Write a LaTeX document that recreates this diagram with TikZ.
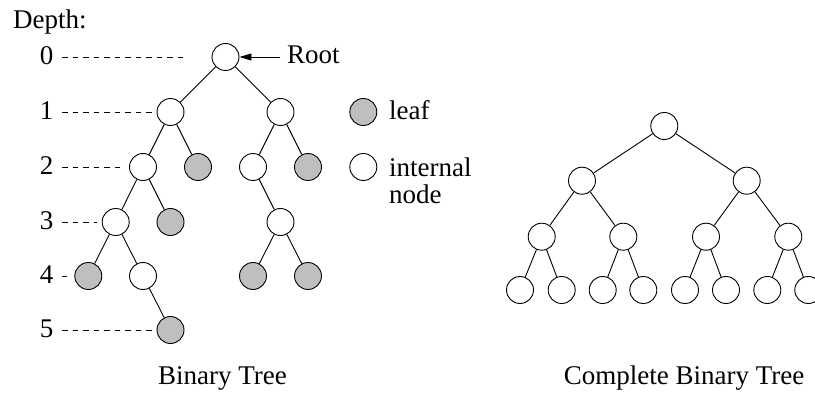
\documentclass[tikz,border=0pt]{standalone}
\usepackage{fontspec}
\setmainfont{Liberation Serif}
\usetikzlibrary{arrows.meta}
\begin{document}
\begin{tikzpicture}[x=1pt,y=-1pt,
  nd/.style={circle,draw,line width=0.9pt,minimum size=27pt,inner sep=0pt,fill=white},
  lf/.style={nd,fill=gray!50},
  edge/.style={line width=0.9pt},
  dl/.style={line width=0.8pt,dash pattern=on 5.5pt off 5pt},
  txt/.style={font=\fontsize{27}{32}\selectfont,inner sep=0pt}
]
\useasboundingbox (0,0) rectangle (815,393);

% ---------- Binary tree ----------
\node[nd] (r) at (225.5,57) {};
\node[nd] (a) at (170.5,112) {};
\node[nd] (b) at (280.5,112) {};
\node[nd] (c) at (143,167) {};
\node[lf] (d) at (198,167) {};
\node[nd] (e) at (253,167) {};
\node[lf] (f) at (308,167) {};
\node[nd] (g) at (115.7,222) {};
\node[lf] (h) at (170.5,222) {};
\node[nd] (i) at (280.5,222) {};
\node[lf] (j) at (88.3,276) {};
\node[nd] (k) at (143,276) {};
\node[lf] (l) at (253,276) {};
\node[lf] (m) at (308,276) {};
\node[lf] (n) at (170.5,330) {};

\foreach \u/\v in {r/a,r/b,a/c,a/d,b/e,b/f,c/g,c/h,e/i,g/j,g/k,i/l,i/m,k/n}
  \draw[edge] (\u) -- (\v);

% depth labels
\node[txt,anchor=base west] (depth) at (13,29) {Depth:};
\foreach \k/\yy/\ee in {0/57/187,1/112/152,2/167/123,3/222/97,4/276/67,5/330/152}{
  \node[txt,anchor=base] (d\k) at (46.5,\yy+7.5) {\k};
  \coordinate (s\k) at (62,\yy);
  \coordinate (t\k) at (\ee,\yy);
  \draw[dl] (s\k) -- (t\k);
}

% root label
\node[txt,anchor=base west] (roottxt) at (287,64) {Root};
\draw[edge,-{Triangle[length=12pt,width=7pt]}] ([xshift=-7pt]roottxt.west |- r) -- (r);

% legend
\node[lf] (legleaf) at (363.3,112) {};
\node[txt,anchor=base west] (leaftxt) at (389,120) {leaf};
\node[nd] (legint) at (363.3,167) {};
\node[txt,anchor=base west] (inttxt) at (389,176.5) {internal};
\node[txt,anchor=base west] (nodetxt) at (389,203.5) {node};

\node[txt,anchor=base] (bt) at (222.5,384) {Binary Tree};

% ---------- Complete binary tree ----------
\node[nd] (R) at (664.3,126) {};
\node[nd] (A) at (582,180.7) {};
\node[nd] (B) at (746.7,180.7) {};
\node[nd] (C1) at (541.7,236.7) {};
\node[nd] (C2) at (623.3,236.7) {};
\node[nd] (C3) at (706,236.7) {};
\node[nd] (C4) at (788.3,236.7) {};
\node[nd] (D1) at (520,290) {};
\node[nd] (D2) at (561.7,290) {};
\node[nd] (D3) at (602.7,290) {};
\node[nd] (D4) at (643.3,290) {};
\node[nd] (D5) at (685,290) {};
\node[nd] (D6) at (726,290) {};
\node[nd] (D7) at (767.3,290) {};
\node[nd] (D8) at (808.3,290) {};

\foreach \u/\v in {R/A,R/B,A/C1,A/C2,B/C3,B/C4,C1/D1,C1/D2,C2/D3,C2/D4,C3/D5,C3/D6,C4/D7,C4/D8}
  \draw[edge] (\u) -- (\v);

\node[txt,anchor=base] (cbt) at (684,384) {Complete Binary Tree};
\end{tikzpicture}
\end{document}
